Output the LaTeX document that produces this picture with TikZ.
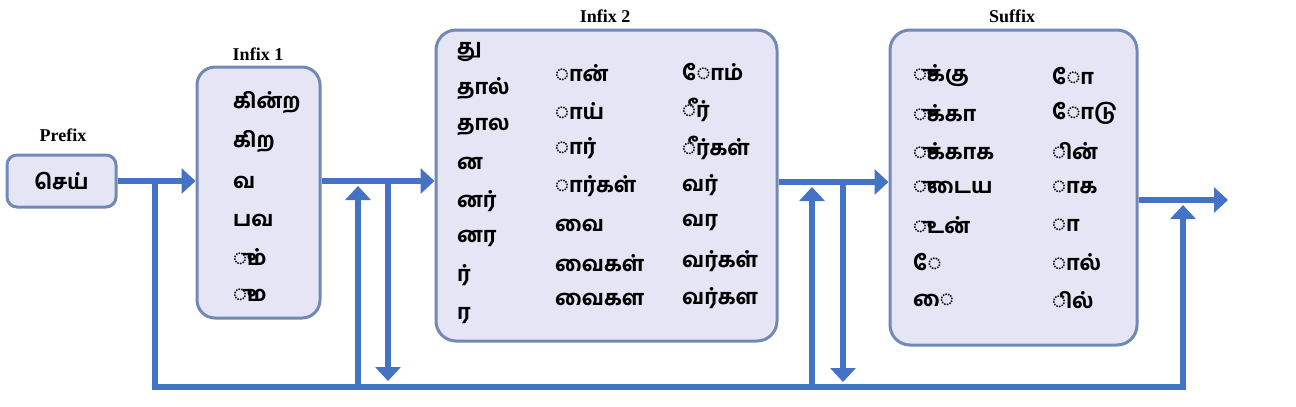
\documentclass[tikz,border=0pt]{standalone}
\usepackage{fontspec}
\setmainfont{Liberation Serif}
\IfFontExistsTF{Hind Madurai Bold}
  {\newfontfamily\tam[Script=Tamil]{Hind Madurai Bold}}
  {\IfFontExistsTF{Hind Madurai SemiBold}
    {\newfontfamily\tam[Script=Tamil]{Hind Madurai SemiBold}}
    {\newfontfamily\tam[Script=Tamil, FakeBold=1.5]{Hind Madurai}}}
\usetikzlibrary{arrows.meta}
\definecolor{boxfill}{HTML}{E6E5F5}
\definecolor{boxline}{HTML}{7089B5}
\definecolor{arrcol}{HTML}{4472C4}
\tikzset{
  box/.style={draw=boxline, fill=boxfill, line width=3pt, rounded corners=#1, inner sep=0pt},
  box/.default=18pt,
  lbl/.style={font=\bfseries\fontsize{18}{20}\selectfont, inner sep=0pt},
  tm/.style={font=\tam\fontsize{21}{23}\selectfont, anchor=west, inner sep=0pt},
  conn/.style={draw=arrcol, line width=6pt, line join=miter},
  arr/.style={conn, -{Triangle[width=25pt,length=14pt]}},
}
\begin{document}
\begin{tikzpicture}[x=1pt,y=-1pt]
\useasboundingbox (0,0) rectangle (1296,407);
% boxes
\node[box=10pt, minimum width=109pt, minimum height=52pt] (prefix) at (61.5,181) {};
\node[box, minimum width=123pt, minimum height=251pt] (infix1) at (258.5,192.5) {};
\node[box=20pt, minimum width=341pt, minimum height=311pt] (infix2) at (606.5,185.5) {};
\node[box=20pt, minimum width=247pt, minimum height=315pt] (suffix) at (1013.5,187.5) {};
% labels
\node[lbl] (lp) at (63,135) {Prefix};
\node[lbl] (l1) at (258,54) {Infix 1};
\node[lbl] (l2) at (605,16) {Infix 2};
\node[lbl] (ls) at (1012,16) {Suffix};
% prefix text
\node[tm, anchor=center] (p1) at (61.5,181) {செய்};
% infix 1
\node[tm] (i1a) at (233,103) {கின்ற};
\node[tm] (i1b) at (233,142) {கிற};
\node[tm] (i1c) at (233,182) {வ};
\node[tm] (i1d) at (233,220) {பவ};
\node[tm] (i1e) at (233,257) {ும்};
\node[tm] (i1f) at (233,295) {ும};
% infix 2 col 1
\node[tm] (i2a1) at (457,52) {து};
\node[tm] (i2a2) at (457,89) {தால்};
\node[tm] (i2a3) at (457,127) {தால};
\node[tm] (i2a4) at (457,163) {ன};
\node[tm] (i2a5) at (457,201) {னர்};
\node[tm] (i2a6) at (457,238) {னர};
\node[tm] (i2a7) at (457,275) {ர்};
\node[tm] (i2a8) at (457,316) {ர};
% infix 2 col 2
\node[tm] (i2b1) at (555,73) {ான்};
\node[tm] (i2b2) at (555,111) {ாய்};
\node[tm] (i2b3) at (555,148) {ார்};
\node[tm] (i2b4) at (555,186) {ார்கள்};
\node[tm] (i2b5) at (555,225) {வை};
\node[tm] (i2b6) at (555,263) {வைகள்};
\node[tm] (i2b7) at (555,300) {வைகள};
% infix 2 col 3
\node[tm] (i2c1) at (682,72) {ோம்};
\node[tm] (i2c2) at (682,110) {ீர்};
\node[tm] (i2c3) at (682,148) {ீர்கள்};
\node[tm] (i2c4) at (682,185) {வர்};
\node[tm] (i2c5) at (682,222) {வர};
\node[tm] (i2c6) at (682,261) {வர்கள்};
\node[tm] (i2c7) at (682,298) {வர்கள};
% suffix col 1
\node[tm] (sa1) at (913,76) {ுக்கு};
\node[tm] (sa2) at (913,113) {ுக்கா};
\node[tm] (sa3) at (913,151) {ுக்காக};
\node[tm] (sa4) at (913,187) {ுடைய};
\node[tm] (sa5) at (913,225) {ுடன்};
\node[tm] (sa6) at (913,262) {ே};
\node[tm] (sa7) at (913,300) {ை};
% suffix col 2
\node[tm] (sb1) at (1052,76) {ோ};
\node[tm] (sb2) at (1052,113) {ோடு};
\node[tm] (sb3) at (1052,151) {ின்};
\node[tm] (sb4) at (1052,187) {ாக};
\node[tm] (sb5) at (1052,225) {ா};
\node[tm] (sb6) at (1052,262) {ால்};
\node[tm] (sb7) at (1052,300) {ில்};
% coordinates
\coordinate (j1) at (155,181);
\coordinate (b1) at (155,387);
\coordinate (b2) at (358,387);
\coordinate (b3) at (812,387);
\coordinate (b4) at (1183,387);
\coordinate (u1) at (358,186);
\coordinate (d1top) at (388,181);
\coordinate (d1) at (388,381);
\coordinate (u2) at (812,187);
\coordinate (d2top) at (843,182);
\coordinate (d2) at (843,382);
\coordinate (u3) at (1183,205);
\coordinate (out) at (1228,200);
% connectors
\draw[arr] (prefix.east) -- (prefix.east -| infix1.west);
\draw[arr] (infix1.east |- prefix.east) -- (infix2.west |- prefix.east);
\draw[arr] (infix2.east |- d2top) -- (suffix.west |- d2top);
\draw[arr] (suffix.east |- out) -- (out);
\draw[arr] (j1) -- (b1) -- (b4) -- (u3);
\draw[arr] (b2) -- (u1);
\draw[arr] (d1top) -- (d1);
\draw[arr] (b3) -- (u2);
\draw[arr] (d2top) -- (d2);
\end{tikzpicture}
\end{document}
